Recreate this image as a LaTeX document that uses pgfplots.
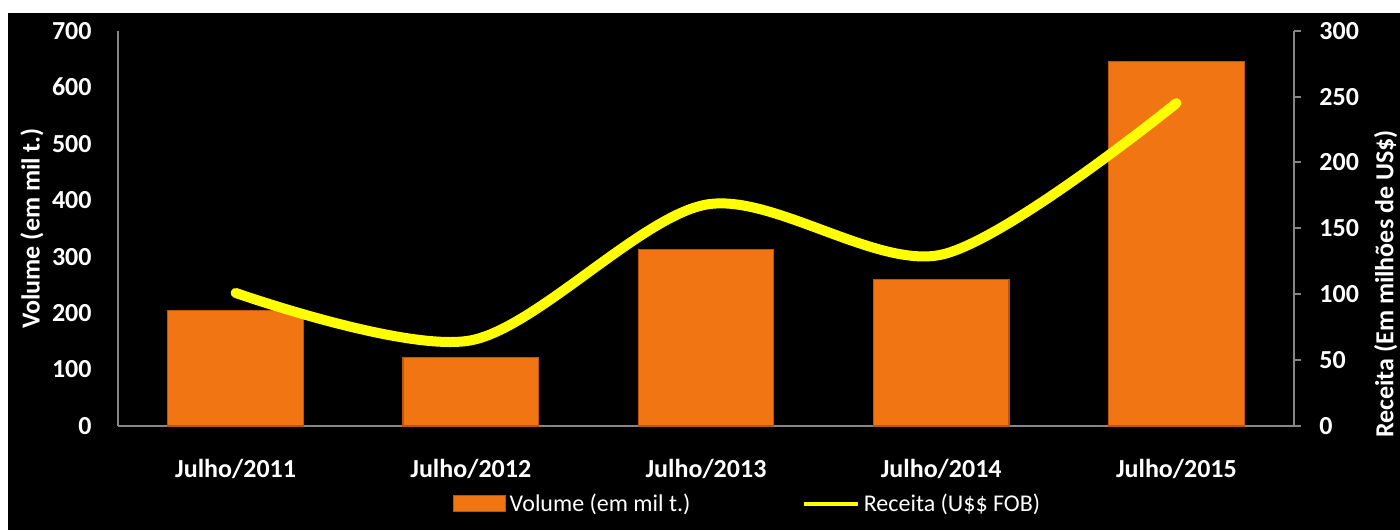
\documentclass[border=0pt]{standalone}
\usepackage{pgfplots}
\pgfplotsset{compat=1.18}
\usepackage{fontspec}
\setmainfont{Carlito}
\definecolor{barorange}{RGB}{241,118,19}
\definecolor{baredge}{RGB}{190,85,10}
\definecolor{axisgray}{RGB}{134,134,134}
\definecolor{lineyellow}{RGB}{255,255,0}
\begin{document}
\begin{tikzpicture}
\fill[white] (0,0) rectangle (700pt,265pt);
\fill[black] (4pt,0) rectangle (700pt,258.5pt);
\pgfplotsset{
  common/.style={
    scale only axis, width=588pt, height=197.65pt,
    at={(59pt,52pt)}, anchor=south west,
    xmin=-0.5, xmax=4.5, clip=false,
    /pgf/number format/assume math mode=true,
    ticklabel style={font=\bfseries\fontsize{13}{15}\selectfont, text=white},
  },
  nolinearrows/.style={
    axis line style={draw=axisgray, line width=1pt, -},
  },
}
\begin{axis}[common,
  ymin=0, ymax=700, ytick={0,100,...,700},
  axis x line=bottom, axis y line=left,
  nolinearrows,
  ytick pos=left,
  xtick={0,1,2,3,4},
  xticklabels={Julho/2011,Julho/2012,Julho/2013,Julho/2014,Julho/2015},
  major tick length=0pt,
  yticklabel style={anchor=east, inner sep=0pt, xshift=-13pt},
  xticklabel style={anchor=center, inner sep=0pt, yshift=-21.5pt},
  legend style={at={(axis description cs:0.536,-0.197)}, anchor=center, draw=none, fill=none, text=white, font=\fontsize{12}{14}\selectfont, legend columns=2, /tikz/every even column/.append style={column sep=53.5pt}, inner sep=0pt},
  legend cell align=left,
]
\addplot[ybar, bar width=0.576, fill=barorange, draw=baredge, line width=0.6pt,
  legend image code/.code={\fill[barorange, draw=baredge] (0pt,-4pt) rectangle (26pt,4pt);}]
  coordinates {(0,205) (1,121) (2,312) (3,259) (4,645)};
\addlegendentry{Volume (em mil t.)}
\addlegendimage{legend image code/.code={\draw[lineyellow, line width=2.2pt] (0pt,0pt) -- (27pt,0pt);}}
\addlegendentry{Receita (U\$\$ FOB)}
\node[rotate=90, anchor=center, text=white, font=\bfseries\fontsize{13}{15}\selectfont] at (axis description cs:-0.0731,0.5) {Volume (em mil t.)};
\node[rotate=90, anchor=center, text=white, font=\bfseries\fontsize{13}{15}\selectfont] at (axis description cs:1.078,0.359) {Receita (Em milhões de US\$)};
\end{axis}
\begin{axis}[common,
  ymin=0, ymax=300, ytick={0,50,...,300},
  axis y line=right, axis x line=none,
  nolinearrows,
  ytick pos=right,
  xtick=\empty,
  tick align=outside, major tick length=3.5pt,
  tick style={draw=axisgray, line width=1pt},
  yticklabel style={anchor=west, inner sep=0pt, xshift=9pt},
]
\addplot[lineyellow, line width=5pt, smooth, line cap=round] coordinates {(0,101) (1,65) (2,168) (3,130) (4,245)};
\end{axis}
\pgfresetboundingbox
\useasboundingbox (0,0) rectangle (700pt,265pt);
\end{tikzpicture}
\end{document}
